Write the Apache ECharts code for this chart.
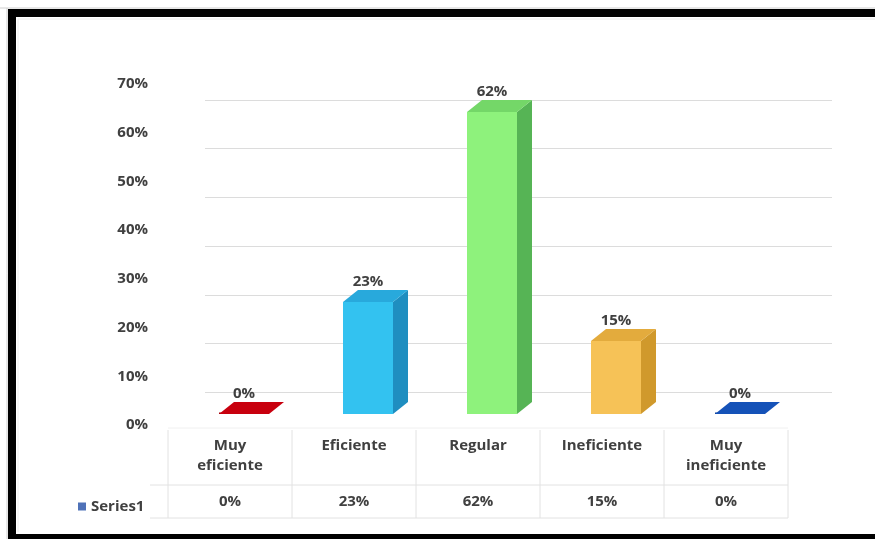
<!DOCTYPE html>
<html>
<head>
<meta charset="utf-8">
<script src="https://cdn.jsdelivr.net/npm/echarts@6/dist/echarts.min.js"></script>
<style>
  html, body { margin: 0; padding: 0; background: #ffffff; }
  #chart { width: 875px; height: 539px; }
</style>
</head>
<body>
<div id="chart"></div>
<script>
// Survey result: share of answers per rating level
const categories = ['Muy\neficiente', 'Eficiente', 'Regular', 'Ineficiente', 'Muy\nineficiente'];
const values = [0, 23, 62, 15, 0];
const seriesName = 'Series1';
const yTicks = [0, 10, 20, 30, 40, 50, 60, 70];

// face colours per bar: [front, side, top]
const faceColors = [
  ['#d00010', '#9a0008', '#c8000e'],
  ['#33c2f0', '#1f8ec0', '#28a9dc'],
  ['#8ef27c', '#56b455', '#74d768'],
  ['#f6c257', '#d0992c', '#e3ab3d'],
  ['#1a5cc8', '#0c3f96', '#1552b8']
];

const FONT = "'Open Sans', 'Liberation Sans', sans-serif";
const FS = 15;
const TXT = '#404040';
const pct = v => v + '%';

const chart = echarts.init(document.getElementById('chart'), null, { renderer: 'canvas' });

function renderBar(params, api) {
  const i = api.value(0);
  const v = api.value(1);
  const base = api.coord([i, 0]);
  const top = api.coord([i, v]);
  const bw = 50, dx = 15, dy = -12, shift = 14;
  const x0 = base[0] + shift - bw / 2, x1 = x0 + bw;
  const yb = base[1], yt = top[1];
  const c = faceColors[i];
  const kids = [];
  if (yb - yt > 0.5) {
    kids.push({ type: 'rect', shape: { x: x0, y: yt, width: bw, height: yb - yt }, style: { fill: c[0] } });
    kids.push({ type: 'polygon', shape: { points: [[x1, yt], [x1 + dx, yt + dy], [x1 + dx, yb + dy], [x1, yb]] }, style: { fill: c[1] } });
  } else {
    // zero-height bar: thin front edge
    kids.push({ type: 'rect', shape: { x: x0, y: yb - 1.5, width: bw, height: 1.5 }, style: { fill: c[1] } });
  }
  kids.push({ type: 'polygon', shape: { points: [[x0, yt], [x0 + dx, yt + dy], [x1 + dx, yt + dy], [x1, yt]] }, style: { fill: c[2] } });
  kids.push({
    type: 'text',
    style: {
      x: x0 + bw / 2, y: yt - 20, text: pct(values[i]),
      fill: TXT, font: 'bold ' + FS + 'px ' + FONT, align: 'center', verticalAlign: 'middle'
    }
  });
  return { type: 'group', children: kids };
}

const hidden = { show: false };
const labelFont = { color: TXT, fontFamily: FONT, fontWeight: 'bold', fontSize: FS };

const option = {
  backgroundColor: '#ffffff',
  animation: false,
  grid: [
    // bars + table header/value rows
    { left: 168, width: 620, top: 73, bottom: 125 },
    // back wall grid lines
    { left: 205, width: 627, top: 100, height: 341 },
    // value axis labels
    { left: 154, width: 600, top: 84, height: 341 }
  ],
  legend: {
    data: [seriesName],
    left: 73, top: 494,
    icon: 'rect', itemWidth: 8, itemHeight: 8, itemGap: 4,
    textStyle: labelFont,
    selectedMode: false
  },
  xAxis: [
    {
      gridIndex: 0, type: 'category', data: categories,
      axisLine: hidden, axisTick: hidden,
      axisLabel: Object.assign({ margin: 22, lineHeight: 20, interval: 0 }, labelFont)
    },
    {
      gridIndex: 0, type: 'category', data: values.map(pct), position: 'bottom', offset: 80,
      axisLine: hidden, axisTick: hidden,
      axisLabel: Object.assign({ margin: 0, interval: 0 }, labelFont)
    },
    { gridIndex: 1, type: 'value', show: false },
    { gridIndex: 2, type: 'value', show: false }
  ],
  yAxis: [
    { gridIndex: 0, type: 'value', min: 0, max: 70, interval: 10, show: false },
    {
      gridIndex: 1, type: 'value', min: 0, max: 70, interval: 10,
      axisLine: hidden, axisTick: hidden, axisLabel: hidden,
      splitLine: { show: true, showMinLine: false, lineStyle: { color: '#dcdcdc', width: 1.2 } }
    },
    {
      gridIndex: 2, type: 'value', min: yTicks[0], max: yTicks[yTicks.length - 1], interval: 10,
      axisLine: hidden, axisTick: hidden, splitLine: hidden,
      axisLabel: Object.assign({ margin: 6, formatter: v => v + '%' }, labelFont)
    }
  ],
  series: [{
    name: seriesName,
    type: 'custom',
    xAxisIndex: 0, yAxisIndex: 0,
    itemStyle: { color: '#4f72b8' },
    data: values.map((v, i) => [i, v]),
    renderItem: renderBar,
    z: 5
  }],
  graphic: [
    // outer frame
    { type: 'rect', left: 8, top: 9, shape: { width: 867, height: 8 }, style: { fill: '#000' }, z: 100 },
    { type: 'rect', left: 8, top: 9, shape: { width: 8, height: 530 }, style: { fill: '#000' }, z: 100 },
    { type: 'rect', left: 8, top: 534, shape: { width: 867, height: 5 }, style: { fill: '#000' }, z: 100 },
    { type: 'line', shape: { x1: 0, y1: 8, x2: 875, y2: 8 }, style: { stroke: '#cfcfcf', lineWidth: 1 }, z: 99 },
    { type: 'line', shape: { x1: 7, y1: 8, x2: 7, y2: 539 }, style: { stroke: '#cfcfcf', lineWidth: 1 }, z: 99 },
    { type: 'line', shape: { x1: 18, y1: 19, x2: 875, y2: 19 }, style: { stroke: '#ececec', lineWidth: 1 }, z: 99 },
    { type: 'line', shape: { x1: 18, y1: 19, x2: 18, y2: 532 }, style: { stroke: '#ececec', lineWidth: 1 }, z: 99 },
    // data table rules
    { type: 'line', shape: { x1: 168, y1: 428, x2: 788, y2: 428 }, style: { stroke: '#f0f0f0', lineWidth: 1 } },
    { type: 'line', shape: { x1: 150, y1: 485, x2: 788, y2: 485 }, style: { stroke: '#e2e2e2', lineWidth: 1 } },
    { type: 'line', shape: { x1: 150, y1: 518, x2: 788, y2: 518 }, style: { stroke: '#e2e2e2', lineWidth: 1 } },
    ...[168, 292, 416, 540, 664, 788].map(x => ({
      type: 'line', shape: { x1: x, y1: 430, x2: x, y2: 518 }, style: { stroke: '#e2e2e2', lineWidth: 1 }
    }))
  ]
};

chart.setOption(option);
</script>
</body>
</html>
